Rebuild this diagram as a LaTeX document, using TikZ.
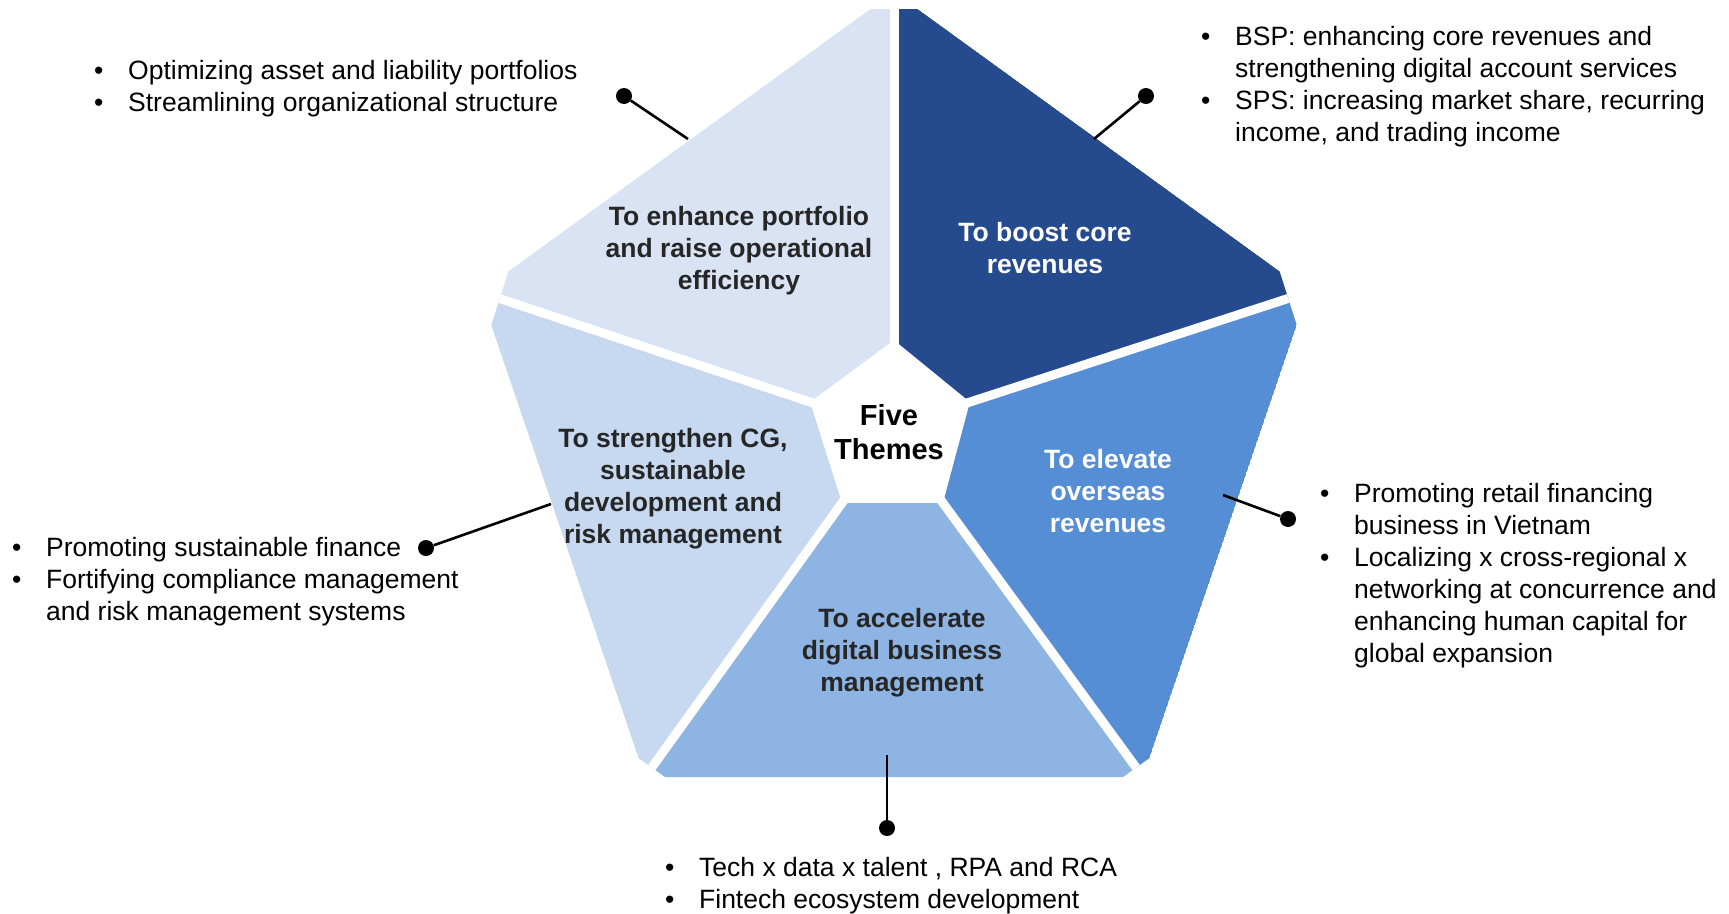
\documentclass[tikz,border=0pt]{standalone}
\usepackage{fontspec}
\setmainfont{Liberation Sans}
\usetikzlibrary{calc}
\definecolor{cTL}{HTML}{DAE3F3}
\definecolor{cTR}{HTML}{264A8E}
\definecolor{cR}{HTML}{558ED5}
\definecolor{cB}{HTML}{8EB4E3}
\definecolor{cL}{HTML}{C6D9F1}
\definecolor{ptext}{HTML}{262626}
\newcommand{\bl}{\makebox[34pt][l]{\textbullet}}
\tikzset{
  piecetext/.style={font=\fontsize{26.5}{32}\selectfont\bfseries, inner sep=0pt, anchor=base},
  centretext/.style={font=\fontsize{29}{34}\selectfont\bfseries, inner sep=0pt, anchor=base, text=black},
  bullettext/.style={font=\fontsize{26.5}{32}\selectfont, inner sep=0pt, anchor=base west, text=black},
  gap/.style={white, line width=9pt, line cap=butt},
  conn/.style={black, line width=2.6pt},
  dotnode/.style={circle, fill=black, inner sep=0pt, minimum size=16pt},
}
\begin{document}
\begin{tikzpicture}[x=1pt,y=-1pt]
\useasboundingbox (0,0) rectangle (1729,913);
% outer and inner pentagon vertices
\coordinate (A) at (894,-8);
\coordinate (UL) at (480,292);
\coordinate (UR) at (1308,292);
\coordinate (LL) at (645,777);
\coordinate (LR) at (1143,777);
\coordinate (IA) at (894,340);
\coordinate (IUL) at (810,402);
\coordinate (IUR) at (970,402);
\coordinate (ILL) at (842,503);
\coordinate (ILR) at (943,503);
\begin{scope}
  \clip ($(A)!29pt!(UL)$) -- ($(A)!29pt!(UR)$) -- ($(UR)!35pt!(A)$) -- ($(UR)!35pt!(LR)$)
    -- ($(LR)!20pt!(UR)$) -- ($(LR)!20pt!(LL)$) -- ($(LL)!20pt!(LR)$) -- ($(LL)!20pt!(UL)$)
    -- ($(UL)!35pt!(LL)$) -- ($(UL)!35pt!(A)$) -- cycle;
  \fill[cTL] (A) -- (UL) -- (IUL) -- (IA) -- cycle;
  \fill[cL] (UL) -- (LL) -- (ILL) -- (IUL) -- cycle;
  \fill[cB] (LL) -- (LR) -- (ILR) -- (ILL) -- cycle;
  \fill[cR] (LR) -- (UR) -- (IUR) -- (ILR) -- cycle;
  \fill[cTR] (UR) -- (A) -- (IA) -- (IUR) -- cycle;
  \draw[gap] ($(IA)!-0.1!(A)$) -- ($(IA)!1.05!(A)$);
  \draw[gap] ($(IUL)!-0.05!(UL)$) -- ($(IUL)!1.05!(UL)$);
  \draw[gap] ($(IUR)!-0.05!(UR)$) -- ($(IUR)!1.05!(UR)$);
  \draw[gap] ($(ILL)!-0.05!(LL)$) -- ($(ILL)!1.05!(LL)$);
  \draw[gap] ($(ILR)!-0.05!(LR)$) -- ($(ILR)!1.05!(LR)$);
\end{scope}
% theme labels
\node[piecetext, text=ptext] (ttl) at (739,225) {\begin{tabular}[t]{@{}c@{}}To enhance portfolio\\and raise operational\\efficiency\end{tabular}};
\node[piecetext, text=white] (ttr) at (1045,241) {\begin{tabular}[t]{@{}c@{}}To boost core\\revenues\end{tabular}};
\node[piecetext, text=white] (tr) at (1108,468) {\begin{tabular}[t]{@{}c@{}}To elevate\\overseas\\revenues\end{tabular}};
\node[piecetext, text=ptext] (tb) at (902,627) {\begin{tabular}[t]{@{}c@{}}To accelerate\\digital business\\management\end{tabular}};
\node[piecetext, text=ptext] (tl) at (673,447) {\begin{tabular}[t]{@{}c@{}}To strengthen CG,\\sustainable\\development and\\risk management\end{tabular}};
\node[centretext] (centre) at (889,425) {\begin{tabular}[t]{@{}c@{}}Five\\Themes\end{tabular}};
% bullet notes
\node[bullettext] (ntl) at (94,79) {\begin{tabular}[t]{@{}l@{}l@{}}\bl&Optimizing asset and liability portfolios\\\bl&Streamlining organizational structure\end{tabular}};
\node[bullettext] (ntr) at (1201,45) {\begin{tabular}[t]{@{}l@{}l@{}}\bl&BSP: enhancing core revenues and\\&strengthening digital account services\\\bl&SPS: increasing market share, recurring\\&income, and trading income\end{tabular}};
\node[bullettext] (nl) at (12,556) {\begin{tabular}[t]{@{}l@{}l@{}}\bl&Promoting sustainable finance\\\bl&Fortifying compliance management\\&and risk management systems\end{tabular}};
\node[bullettext] (nr) at (1320,502) {\begin{tabular}[t]{@{}l@{}l@{}}\bl&Promoting retail financing\\&business in Vietnam\\\bl&Localizing x cross-regional x\\&networking at concurrence and\\&enhancing human capital for\\&global expansion\end{tabular}};
\node[bullettext] (nb) at (665,876) {\begin{tabular}[t]{@{}l@{}l@{}}\bl&Tech x data x talent , RPA and RCA\\\bl&Fintech ecosystem development\end{tabular}};
% connectors
\node[dotnode] (d1) at (624,96) {};
\coordinate (e1) at (688,139);
\draw[conn] (d1) -- (e1);
\node[dotnode] (d2) at (1146,96) {};
\coordinate (e2) at (1094,139);
\draw[conn] (d2) -- (e2);
\node[dotnode] (d3) at (426,548) {};
\coordinate (e3) at (551,504);
\draw[conn] (d3) -- (e3);
\node[dotnode] (d4) at (1288,519) {};
\coordinate (e4) at (1223,495);
\draw[conn] (d4) -- (e4);
\node[dotnode] (d5) at (887,828) {};
\coordinate (e5) at (887,755);
\draw[conn] (d5) -- (e5);
\end{tikzpicture}
\end{document}
